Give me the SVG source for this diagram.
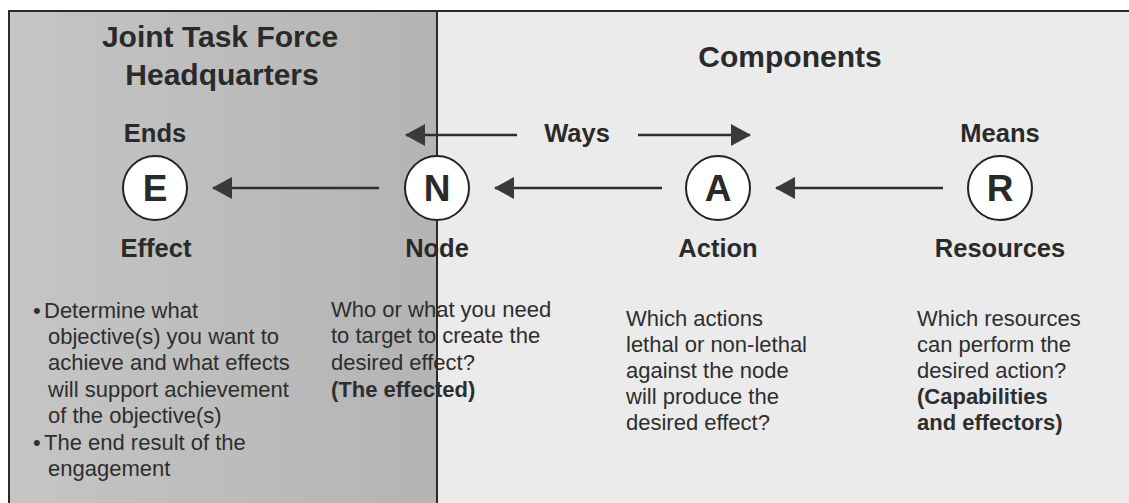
<svg xmlns="http://www.w3.org/2000/svg" width="1129" height="503" viewBox="0 0 1129 503">
<defs>
<linearGradient id="leftbg" x1="0" y1="0" x2="1" y2="0">
<stop offset="0" stop-color="#c5c5c5"/>
<stop offset="1" stop-color="#b4b4b4"/>
</linearGradient>
<marker id="ah" viewBox="0 0 20 22" refX="19" refY="11" markerWidth="20" markerHeight="22" markerUnits="userSpaceOnUse" orient="auto">
<path d="M0,0 L20,11 L0,22 Z" fill="#3a3a3a"/>
</marker>
<style>
.h{font-family:"Liberation Sans",Arial,sans-serif;font-weight:bold;font-size:30px;fill:#2a2a2a;text-anchor:middle}
.lbl{font-family:"Liberation Sans",Arial,sans-serif;font-weight:bold;font-size:25.5px;fill:#2a2a2a;text-anchor:middle}
.let{font-family:"Liberation Sans",Arial,sans-serif;font-weight:bold;font-size:37px;fill:#2a2a2a;text-anchor:middle}
.body{font-family:"Liberation Sans",Arial,sans-serif;font-size:22px;fill:#2e2e2e}
.b{font-weight:bold}
.circ{fill:#ffffff;stroke:#222;stroke-width:2}
.con{stroke:#2e2e2e;stroke-width:2.5;fill:none;marker-end:url(#ah)}
</style>
</defs>
<rect x="0" y="0" width="1129" height="503" fill="#ffffff"/>
<rect x="9" y="11" width="428" height="500" fill="url(#leftbg)"/>
<rect x="437" y="11" width="692" height="500" fill="#ebebeb"/>
<path d="M9,511 L9,11 L1129,11" fill="none" stroke="#2a2a2a" stroke-width="2"/>
<line x1="437" y1="11" x2="437" y2="511" stroke="#2a2a2a" stroke-width="2"/>

<g id="titles">
<text class="h" x="220" y="47">Joint Task Force</text>
<text class="h" x="222" y="85">Headquarters</text>
<text class="h" x="790" y="67">Components</text>
<text class="lbl" x="155" y="142">Ends</text>
<text class="lbl" x="577" y="142">Ways</text>
<text class="lbl" x="1000" y="142">Means</text>
</g>

<g id="connectors">
<line class="con" x1="379" y1="188" x2="213" y2="188"/>
<line class="con" x1="662" y1="188" x2="495" y2="188"/>
<line class="con" x1="943" y1="188" x2="776" y2="188"/>
<line class="con" x1="517" y1="135" x2="406" y2="135"/>
<line class="con" x1="638" y1="135" x2="750" y2="135"/>
</g>

<g id="node-E">
<circle class="circ" cx="155" cy="188" r="32"/>
<text class="let" x="155" y="201">E</text>
<text class="lbl" x="156" y="257">Effect</text>
<text class="body" x="33" y="318">•</text>
<text class="body" x="44" y="318">Determine what</text>
<text class="body" x="48" y="344">objective(s) you want to</text>
<text class="body" x="48" y="370">achieve and what effects</text>
<text class="body" x="48" y="397">will support achievement</text>
<text class="body" x="48" y="423">of the objective(s)</text>
<text class="body" x="33" y="450">•</text>
<text class="body" x="44" y="450">The end result of the</text>
<text class="body" x="48" y="476">engagement</text>
</g>

<g id="node-N">
<circle class="circ" cx="437" cy="188" r="32"/>
<text class="let" x="437" y="201">N</text>
<text class="lbl" x="437" y="257">Node</text>
<text class="body" x="331" y="317">Who or what you need</text>
<text class="body" x="331" y="343">to target to create the</text>
<text class="body" x="331" y="370">desired effect?</text>
<text class="body b" x="331" y="397">(The effected)</text>
</g>

<g id="node-A">
<circle class="circ" cx="718" cy="188" r="32"/>
<text class="let" x="718" y="201">A</text>
<text class="lbl" x="718" y="257">Action</text>
<text class="body" x="626" y="326">Which actions</text>
<text class="body" x="626" y="352">lethal or non-lethal</text>
<text class="body" x="626" y="378">against the node</text>
<text class="body" x="626" y="404">will produce the</text>
<text class="body" x="626" y="430">desired effect?</text>
</g>

<g id="node-R">
<circle class="circ" cx="1000" cy="188" r="32"/>
<text class="let" x="1000" y="201">R</text>
<text class="lbl" x="1000" y="257">Resources</text>
<text class="body" x="917" y="326">Which resources</text>
<text class="body" x="917" y="352">can perform the</text>
<text class="body" x="917" y="378">desired action?</text>
<text class="body b" x="917" y="404">(Capabilities</text>
<text class="body b" x="917" y="430">and effectors)</text>
</g>
</svg>
